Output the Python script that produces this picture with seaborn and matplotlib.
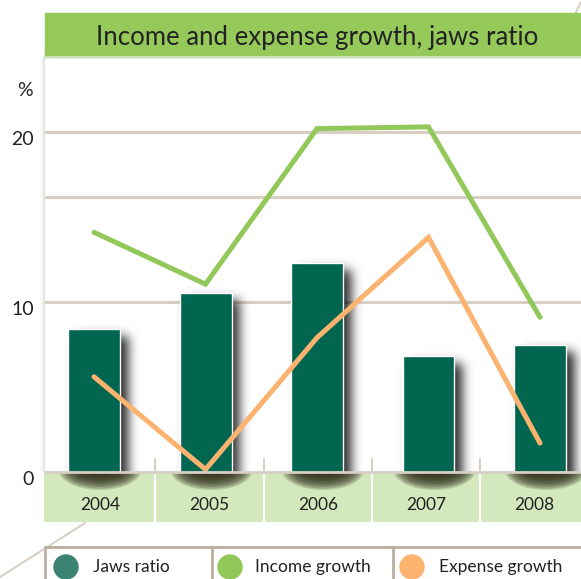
import math
import numpy as np
import pandas as pd
import matplotlib
matplotlib.use("Agg")
import matplotlib.pyplot as plt
import seaborn as sns
from matplotlib.patches import Rectangle, Circle, Ellipse
from matplotlib.lines import Line2D
from matplotlib.colors import to_rgb
from matplotlib.transforms import IdentityTransform, ScaledTranslation

# ---------------- data ----------------
years = ["2004", "2005", "2006", "2007", "2008"]
jaws_ratio = [8.4, 10.55, 12.3, 6.8, 7.5]
income_growth = [14.1, 11.05, 20.2, 20.3, 9.1]
expense_growth = [5.6, 0.15, 7.9, 13.8, 1.7]
y_ticks = [0, 10, 20]
y_tick_labels = ["0", "10", "20"]
grid_levels = [10, 16.2, 20]
series_names = ["Jaws ratio", "Income growth", "Expense growth"]
title = "Income and expense growth, jaws ratio"
unit_label = "%"

# ---------------- style ----------------
sns.set_style("white")
FONT = ["Lato", "DejaVu Sans"]
plt.rcParams["font.family"] = FONT

C_BAR = "#00664f"
C_BAR_LEG = "#3a8272"
C_INC = "#92c85a"
C_EXP = "#fbb36f"
C_GRID = "#d7cfc4"
C_BAND = "#d4e8bd"
C_TITLE = "#95c95a"
C_BORDER = "#b9ae9f"
C_TEXT = "#222222"

W, H = 581, 579
fig = plt.figure(figsize=(W / 100, H / 100), dpi=100)
fig.patch.set_facecolor("white")
PIX = IdentityTransform()
_erf = np.vectorize(math.erf)


def add_ax(l, t, r, b, **kw):
    return fig.add_axes([l / W, 1 - b / H, (r - l) / W, (b - t) / H], **kw)


def prect(l, t, r, b, **kw):
    fig.add_artist(Rectangle((l, H - b), r - l, b - t, transform=PIX, **kw))


def pline(xs, ys, **kw):
    fig.add_artist(Line2D(xs, [H - y for y in ys], transform=PIX, **kw))


def soft_shadow(axis, x0, x1, y0, y1, sigma, color, alpha, zorder):
    """blurred rectangle given in display pixels (y up), drawn on axis"""
    pad = 3 * sigma
    xs = np.arange(x0 - pad, x1 + pad, 1.0)
    ys = np.arange(y0 - pad, y1 + pad, 1.0)
    s = sigma * math.sqrt(2)
    ax_ = 0.5 * (_erf((xs - x0) / s) - _erf((xs - x1) / s))
    ay_ = 0.5 * (_erf((ys - y0) / s) - _erf((ys - y1) / s))
    a = np.outer(ay_[::-1], ax_) * alpha
    img = np.zeros(a.shape + (4,))
    img[..., :3] = to_rgb(color)
    img[..., 3] = a
    inv = axis.transData.inverted()
    (dx0, dy0) = inv.transform((xs[0], ys[0]))
    (dx1, dy1) = inv.transform((xs[-1], ys[-1]))
    xl, yl = axis.get_xlim(), axis.get_ylim()
    axis.imshow(img, extent=(dx0, dx1, dy0, dy1), origin="upper",
                aspect="auto", interpolation="bilinear", zorder=zorder)
    axis.set_xlim(xl)
    axis.set_ylim(yl)


# decorative diagonals
pline([85, 0], [523, 577], color="#d8d0c6", lw=1.5, zorder=0)
pline([575, 581], [14, 2], color="#d8d0c6", lw=1.5, zorder=0)

# title band
prect(45, 13, 581, 57, color=C_TITLE, zorder=1)
pline([45, 581], [57, 57], color="#cfe0b8", lw=1.5, zorder=2)
fig.text(317 / W, 1 - 38 / H, title, ha="center", va="center",
         fontsize=18.5, color=C_TEXT, family=FONT)

# left vertical shadow of the plot panel
for i, a in enumerate([0.03, 0.05, 0.07, 0.09, 0.11]):
    prect(40 + i, 57, 45, 472, color="black", alpha=a * 0.35, lw=0, zorder=1)

# ---------------- main axes ----------------
BAR_PX0, BAR_STEP = 94, 111.5        # pixel centre of first bar, spacing
PX_PER_UNIT = 17.0
L, T, R, B = 45, 57, 581, 472
ax = add_ax(L, T, R, B)
ax.set_facecolor("white")

pos = np.arange(len(years))
df = pd.DataFrame({"year": years, "pos": pos, "jaws": jaws_ratio,
                   "income": income_growth, "expense": expense_growth})

for g in grid_levels:
    ax.axhline(g, color=C_GRID, lw=2.2, zorder=0)

bw = 52 / BAR_STEP
sns.barplot(data=df, x="pos", y="jaws", native_scale=True, width=bw,
            color=C_BAR, saturation=1, edgecolor="white", linewidth=1,
            ax=ax, zorder=2)
sns.lineplot(data=df, x="pos", y="income", color=C_INC, lw=3.6, ax=ax,
             zorder=3, solid_capstyle="round", solid_joinstyle="miter")
sns.lineplot(data=df, x="pos", y="expense", color=C_EXP, lw=3.6, ax=ax,
             zorder=4, solid_capstyle="round", solid_joinstyle="miter")

ax.set_xlim((L - BAR_PX0) / BAR_STEP, (R - BAR_PX0) / BAR_STEP)
ax.set_ylim(0, (B - T) / PX_PER_UNIT)
ax.set_xticks([])
ax.set_xlabel("")
ax.set_ylabel("")
ax.set_yticks(y_ticks)
ax.set_yticklabels(y_tick_labels, fontsize=14, color=C_TEXT, family=FONT)
ax.tick_params(axis="y", length=0, pad=8)
for lab in ax.get_yticklabels():
    lab.set_transform(lab.get_transform() + ScaledTranslation(0, -6 / 100, fig.dpi_scale_trans))
for s in ax.spines.values():
    s.set_visible(False)
if ax.get_legend():
    ax.get_legend().remove()

fig.text(25 / W, 1 - 90 / H, unit_label, ha="center", va="center",
         fontsize=14, color=C_TEXT, family=FONT)

# ---------------- category band ----------------
CELL_PX0, CELL_STEP = 100.75, 108.5
bl, br = 44, 581
band = add_ax(bl, 472, br, 522)
band.set_facecolor(C_BAND)
band.set_xlim((bl - CELL_PX0) / CELL_STEP, (br - CELL_PX0) / CELL_STEP)
band.set_ylim(50, 0)   # pixels below the band top
for s in band.spines.values():
    s.set_visible(False)
band.set_xticks([])
band.set_yticks([])
fig.canvas.draw()

for p, v in zip(pos, jaws_ratio):
    xl_, yb_ = ax.transData.transform((p - bw / 2, 0))
    xr_, yt_ = ax.transData.transform((p + bw / 2, v))
    # soft shadow to the right of each bar
    soft_shadow(ax, xl_ + 8, xr_ + 8, yb_ - 20, yt_ - 7, 5.5, "black", 0.85, 1.5)
    # shadow cast onto the band (stacked translucent ellipses)
    xc = band.transData.inverted().transform(((xl_ + xr_) / 2 + 6, 0))[0]
    for k in range(11):
        wpx = 82 - k * 4.5
        hpx = 40 - k * 3.0
        band.add_patch(Ellipse((xc, -2), wpx / CELL_STEP, hpx,
                               color="#2b2a18", alpha=0.2, lw=0, zorder=1))

for i in range(len(years) - 1):
    band.axvline(i + 0.5, color="white", lw=1.6, zorder=3)
for i, yr in enumerate(years):
    band.text(i, 33, yr, ha="center", va="center", fontsize=12.5,
              color=C_TEXT, family=FONT, zorder=4)
# small ticks above the separators
for i in range(len(years) - 1):
    xd = band.transData.transform((i + 0.5, 0))[0]
    pline([xd, xd], [459, 472], color=C_GRID, lw=1.5, zorder=5)
pline([45, 581], [472, 472], color=C_GRID, lw=2, zorder=5)

# ---------------- legend ----------------
prect(45, 547, 581, 580, color="white", zorder=3)
pline([45, 581], [547, 547], color=C_BORDER, lw=2, zorder=4)
for x in [45, 212, 393]:
    pline([x, x], [547, 580], color=C_BORDER, lw=2, zorder=4)
leg_colors = [C_BAR_LEG, C_INC, C_EXP]
leg_cx = [66, 230, 412]
leg_tx = [93, 255, 439]
for name, c, cx, tx in zip(series_names, leg_colors, leg_cx, leg_tx):
    fig.add_artist(Circle((cx, H - 567), 12, transform=PIX, color=c, zorder=5))
    fig.text(tx / W, 1 - 567 / H, name, ha="left", va="center", fontsize=12.5,
             color=C_TEXT, family=FONT, zorder=5)

fig.savefig("out.png", dpi=100)
